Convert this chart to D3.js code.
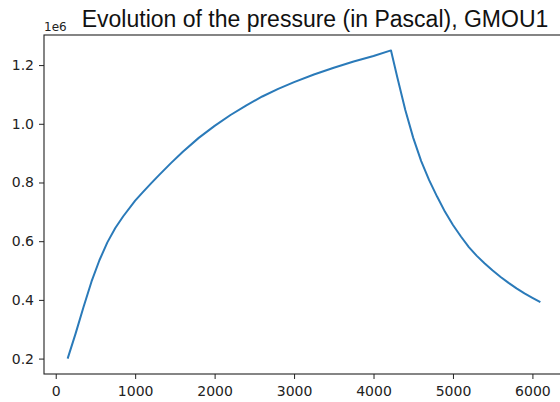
<!DOCTYPE html>
<html>
<head>
<meta charset="utf-8">
<script src="https://cdn.jsdelivr.net/npm/d3@7"></script>
<style>
    body { margin: 0; background: #fff; }
    svg { display: block; }
</style>
</head>
<body>
<div id="chart"></div>
<script>
// time (s) and pressure (Pa)
const times = [150, 250, 350, 450, 550, 650, 750, 850, 1000, 1100, 1200, 1300, 1450, 1600, 1800, 2000,
    2200, 2400, 2600, 2800, 3000, 3250, 3500, 3750, 4000, 4220,
    4300, 4400, 4500, 4600, 4700, 4800, 4900, 5000, 5100, 5200, 5300, 5400, 5500, 5600, 5700, 5800,
    5900, 6000, 6100];
const pressures = [200000, 285000, 376000, 462000, 535000, 596000, 645000, 685000, 738000, 768000, 797000,
    825000, 866000, 905000, 952000, 993000, 1030000, 1063000, 1093000, 1119000, 1142000, 1168000,
    1191000, 1212000, 1231000, 1250000,
    1158000, 1047000, 952000, 873000, 808000, 752000, 700000, 655000, 616000, 580000, 550000, 524000,
    500000, 478000, 458000, 439000, 422000, 407000, 392000];
const xTicks = [0, 1000, 2000, 3000, 4000, 5000, 6000];
const yTicks = [200000, 400000, 600000, 800000, 1000000, 1200000];
const title = "Evolution of the pressure (in Pascal), GMOU1";

let lineChart = function () {
    let width = 560,
    height = 402,
    margin = {top: 35, right: -4, bottom: 28, left: 44};

    function chart(selection) {
        let data = selection.datum();

        let svg = selection.append("svg")
            .attr("width", width)
            .attr("height", height);

        // matplotlib style 5% padding around the data
        let pad = (ext) => {
            let d = (ext[1] - ext[0]) * 0.05;
            return [ext[0] - d, ext[1] + d];
        };

        let x = d3.scaleLinear()
            .domain(pad(d3.extent(data, d => d.t)))
            .range([margin.left, width - margin.right]);

        let y = d3.scaleLinear()
            .domain(pad(d3.extent(data, d => d.p)))
            .range([height - margin.bottom, margin.top]);

        let line = d3.line()
            .x(d => x(d.t))
            .y(d => y(d.p));

        svg.append("path")
            .datum(data)
            .attr("fill", "none")
            .attr("stroke", "#2a7ab9")
            .attr("stroke-width", 2)
            .attr("stroke-linejoin", "round")
            .attr("d", line);

        let xAxis = svg.append("g")
            .attr("transform", "translate(0," + (height - margin.bottom) + ")")
            .call(d3.axisBottom(x).tickValues(xTicks).tickSize(5).tickPadding(7).tickFormat(d3.format("d")));

        let yAxis = svg.append("g")
            .attr("transform", "translate(" + margin.left + ",0)")
            .call(d3.axisLeft(y).tickValues(yTicks).tickSize(5).tickPadding(5).tickFormat(d => (d / 1e6).toFixed(1)));

        [xAxis, yAxis].forEach(a => {
            a.select(".domain").remove();
            a.selectAll(".tick line").attr("stroke", "#222");
            a.selectAll("text")
                .attr("fill", "#222")
                .style("font-family", "DejaVu Sans")
                .style("font-size", "14px");
        });

        // spines
        svg.append("rect")
            .attr("x", margin.left)
            .attr("y", margin.top)
            .attr("width", width - margin.right - margin.left)
            .attr("height", height - margin.bottom - margin.top)
            .attr("fill", "none")
            .attr("stroke", "#222")
            .attr("stroke-width", 1.1);

        svg.append("text")
            .attr("x", margin.left)
            .attr("y", margin.top - 4)
            .text("1e6")
            .style("font-family", "DejaVu Sans")
            .style("font-size", "12px")
            .attr("fill", "#222");

        svg.append("text")
            .attr("x", 315)
            .attr("y", 27)
            .attr("text-anchor", "middle")
            .text(title)
            .style("font-family", "Liberation Sans")
            .style("font-size", "23px")
            .attr("fill", "#111");
    }

    chart.width = function (w) {
        if (!arguments.length) return width;
        width = w;
        return chart;
    };

    chart.height = function (h) {
        if (!arguments.length) return height;
        height = h;
        return chart;
    };

    return chart;
};

let data = times.map((t, i) => ({t: t, p: pressures[i]}));

d3.select("#chart")
    .datum(data)
    .call(lineChart());
</script>
</body>
</html>
